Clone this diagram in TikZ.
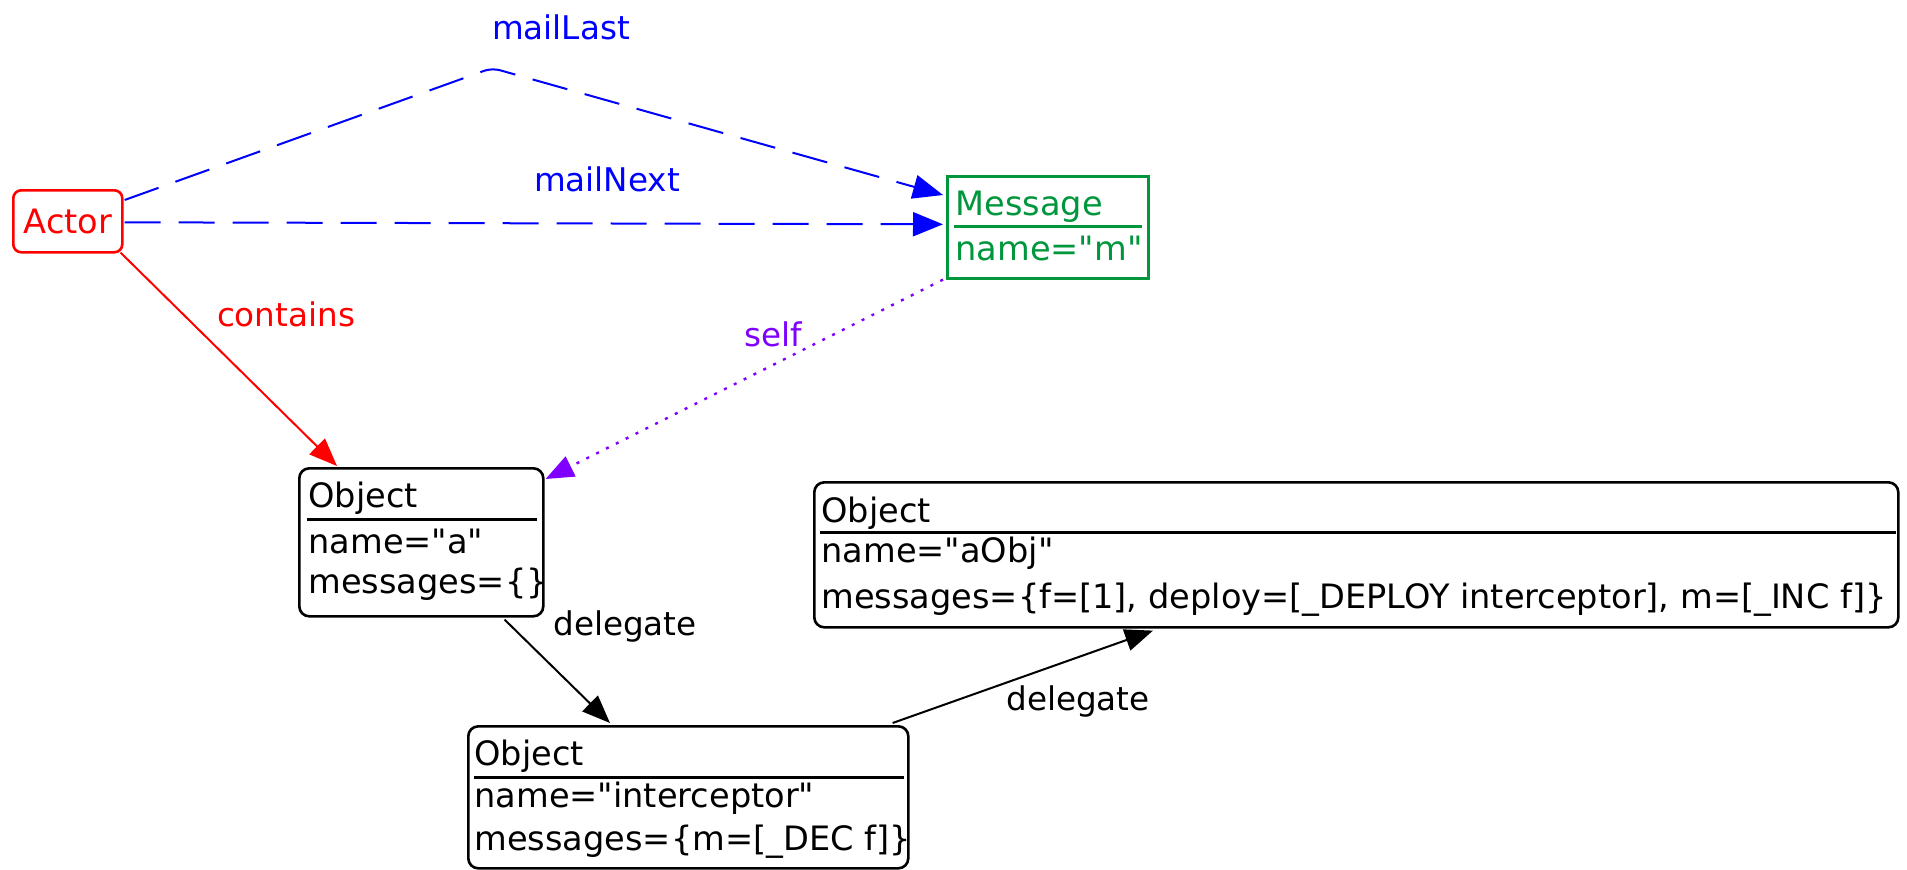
\documentclass[tikz,border=0pt]{standalone}
\usepackage{fontspec}
% plain quotes stay straight
\setmainfont{DejaVu Sans}[Ligatures=TeXOff]
\usetikzlibrary{arrows.meta,calc}
\definecolor{actorred}{RGB}{255,0,0}
\definecolor{mailblue}{RGB}{0,0,255}
\definecolor{msggreen}{RGB}{0,150,60}
\definecolor{selfpurple}{RGB}{128,0,255}
\newcommand\objfont{\fontsize{16.8}{20}\selectfont}
\newcommand\edgefont{\fontsize{16.3}{20}\selectfont}

\begin{document}
\begin{tikzpicture}[x=0.5pt,y=-0.5pt,
  box/.style={draw, line width=1.3pt, inner sep=0, anchor=north west},
  objbox/.style={box, rounded corners=5pt},
  txt/.style={inner sep=0, anchor=base west, font=\objfont},
  lbl/.style={inner sep=0, anchor=base, font=\edgefont},
  sepline/.style={line width=1.5pt},
  tipped/.style={line width=1pt, -{Triangle[length=14pt,width=11pt]}},
  mailedge/.style={line width=1pt, mailblue, dash pattern=on 18pt off 9pt,
    -{Triangle[length=15pt,width=12pt]}},
]
\useasboundingbox[fill=white] (0,0) rectangle (1907,869);

% Actor
\node[box, rounded corners=4pt, actorred, minimum width=54.5pt, minimum height=31pt,
  font=\objfont] (actor) at (12,189) {Actor};

% Message
\node[box, msggreen, minimum width=100.5pt, minimum height=51pt] (message) at (946,175) {};
\node[txt, msggreen] (msgtitle) at (955,215) {Message};
\draw[sepline, msggreen] ($(message.north west)+(8,51)$) -- ($(message.north east)+(-8,51)$);
\node[txt, msggreen] (msgname) at (955,260) {name="m"};

% Object a
\node[objbox, minimum width=122pt, minimum height=74pt] (a) at (298,467) {};
\node[txt] (atitle) at (308,507) {Object};
\draw[sepline] ($(a.north west)+(9,52)$) -- ($(a.north east)+(-8,52)$);
\node[txt] (aname) at (308,553) {name="a"};
\node[txt] (amsgs) at (308,593) {messages=\{\}};

% Object aObj
\node[objbox, minimum width=542pt, minimum height=72.5pt] (aobj) at (813,481) {};
\node[txt] (aobjtitle) at (821,522) {Object};
\draw[sepline] ($(aobj.north west)+(7,51)$) -- ($(aobj.north east)+(-4,51)$);
\node[txt] (aobjname) at (821,562) {name="aObj"};
\node[txt] (aobjmsgs) at (821,608) {messages=\{f=[1], deploy=[\_DEPLOY interceptor], m=[\_INC f]\}};

% Object interceptor
\node[objbox, minimum width=220pt, minimum height=71pt] (icpt) at (467,725) {};
\node[txt] (icpttitle) at (474,765) {Object};
\draw[sepline] ($(icpt.north west)+(7,52)$) -- ($(icpt.north east)+(-6,52)$);
\node[txt] (icptname) at (474,807) {name="interceptor"};
\node[txt] (icptmsgs) at (474,850) {messages=\{m=[\_DEC f]\}};

% mailLast: over a bend above the other edges
\coordinate (lastbend) at (492,68);
\draw[mailedge, rounded corners=4pt] ($(actor.north east)+(1,11)$) -- (lastbend)
  -- ($(message.north west)+(-3,20)$);
\node[lbl, mailblue] (lastlbl) at (561,39) {mailLast};

% mailNext
\draw[mailedge] ($(actor.east)+(1,1)$) -- ($(message.west)+(-3,-3)$);
\node[lbl, mailblue] (nextlbl) at (607,191) {mailNext};

% contains
\draw[tipped, actorred] ($(actor.south east)+(-3,-1)$) -- ($(a.north west)+(39,-1)$);
\node[lbl, actorred] (containslbl) at (286,326) {contains};

% self
\draw[tipped, selfpurple, line width=1.2pt, dash pattern=on 1.5pt off 4pt]
  ($(message.south west)+(-3,0)$) -- ($(a.north east)+(1,12)$);
\node[lbl, selfpurple] (selflbl) at (773,346) {self};

% delegate a -> interceptor
\draw[tipped] ($(a.south east)+(-40,2)$) -- ($(icpt.north west)+(143,-2)$);
\node[lbl] (dellbl1) at (625,635) {delegate};

% delegate interceptor -> aObj
\draw[tipped] ($(icpt.north east)+(-17,-2)$) -- ($(aobj.south west)+(340,2)$);
\node[lbl] (dellbl2) at (1078,710) {delegate};
\end{tikzpicture}
\end{document}
